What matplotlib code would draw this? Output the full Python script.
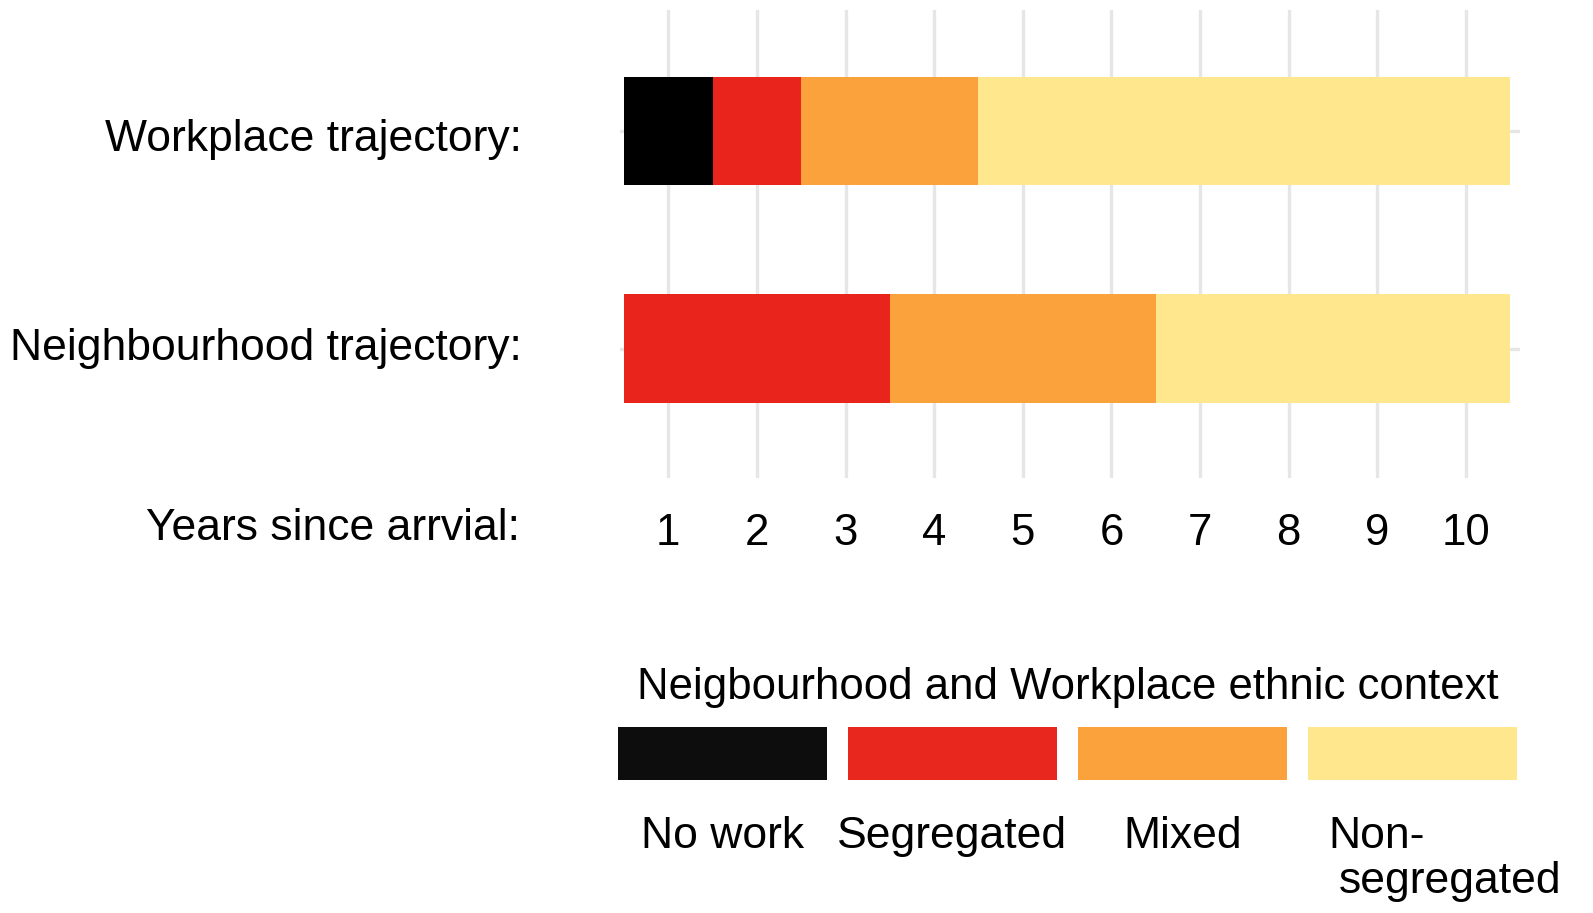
import numpy as np
import matplotlib
matplotlib.use("Agg")
import matplotlib.pyplot as plt
import matplotlib.transforms as mtransforms

# data
rows = ["Neighbourhood trajectory:", "Workplace trajectory:"]
categories = ["No work", "Segregated", "Mixed", "Non-\nsegregated"]
colors = ["#000000", "#e8241c", "#fba23d", "#fee78d"]
legend_colors = ["#0d0d0d", "#e8281f", "#fba23d", "#fee78d"]
years = list(range(1, 11))

# (category index, first year, last year) for each segment
workplace = [(0, 1, 1), (1, 2, 2), (2, 3, 4), (3, 5, 10)]
neighbourhood = [(1, 1, 3), (2, 4, 6), (3, 7, 10)]

plt.rcParams['font.family'] = ['Liberation Sans', 'DejaVu Sans']

W, H = 1593, 913
fig = plt.figure(figsize=(W / 100, H / 100), dpi=100)

# main panel: x 620..1520 px, y 10..478 px
ax = fig.add_axes([620 / W, 1 - 478 / H, 900 / W, 468 / H])
bar_h = 0.497
for yi, traj in enumerate([neighbourhood, workplace]):
    for cat, y0, y1 in traj:
        ax.barh(yi, y1 - y0 + 1, left=y0 - 0.5, height=bar_h,
                color=colors[cat], zorder=3, linewidth=0)

ax.set_xlim(0.455, 10.61)
ax.set_ylim(-0.595, 1.556)
ax.set_xticks(years)
ax.set_xticklabels([str(y) for y in years], fontsize=31.5)
ax.set_yticks([0, 1])
ax.set_yticklabels([])
ax.tick_params(axis='x', length=0, pad=25)
ax.tick_params(axis='y', length=0)
ax.grid(True, color='#e6e6e6', linewidth=2.4, zorder=0)
for s in ax.spines.values():
    s.set_visible(False)

# row labels (workplace label sits a little below its bar centre)
trans = mtransforms.blended_transform_factory(fig.transFigure, ax.transData)
label_shift = [0.0, -0.04]
for yi, lab in enumerate(rows):
    ax.text(522 / W, yi + label_shift[yi], lab, ha='right', va='center',
            fontsize=32, transform=trans)

fig.text(520 / W, 1 - 529 / H, "Years since arrvial:", ha='right', va='center',
         fontsize=32)

# legend keys
lax = fig.add_axes([618 / W, 1 - 780 / H, 899 / W, 53 / H])
pos = np.arange(len(categories))
lax.bar(pos, [1] * len(categories), width=209 / 230, color=legend_colors,
        linewidth=0)
lax.set_xlim(-0.4543, 3.4543)
lax.set_ylim(0, 1)
lax.axis('off')
lax.set_title("Neigbourhood and Workplace ethnic context", fontsize=31.5, pad=20)
for i, lab in enumerate(categories):
    if "\n" in lab:
        first, second = lab.split("\n")
        lax.text(i - 0.365, -0.68, first, ha='left', va='top', fontsize=32)
        lax.text(i - 0.322, -1.53, second, ha='left', va='top', fontsize=32)
    else:
        lax.text(i, -0.68, lab, ha='center', va='top', fontsize=32)

fig.savefig("out.png", dpi=100)
